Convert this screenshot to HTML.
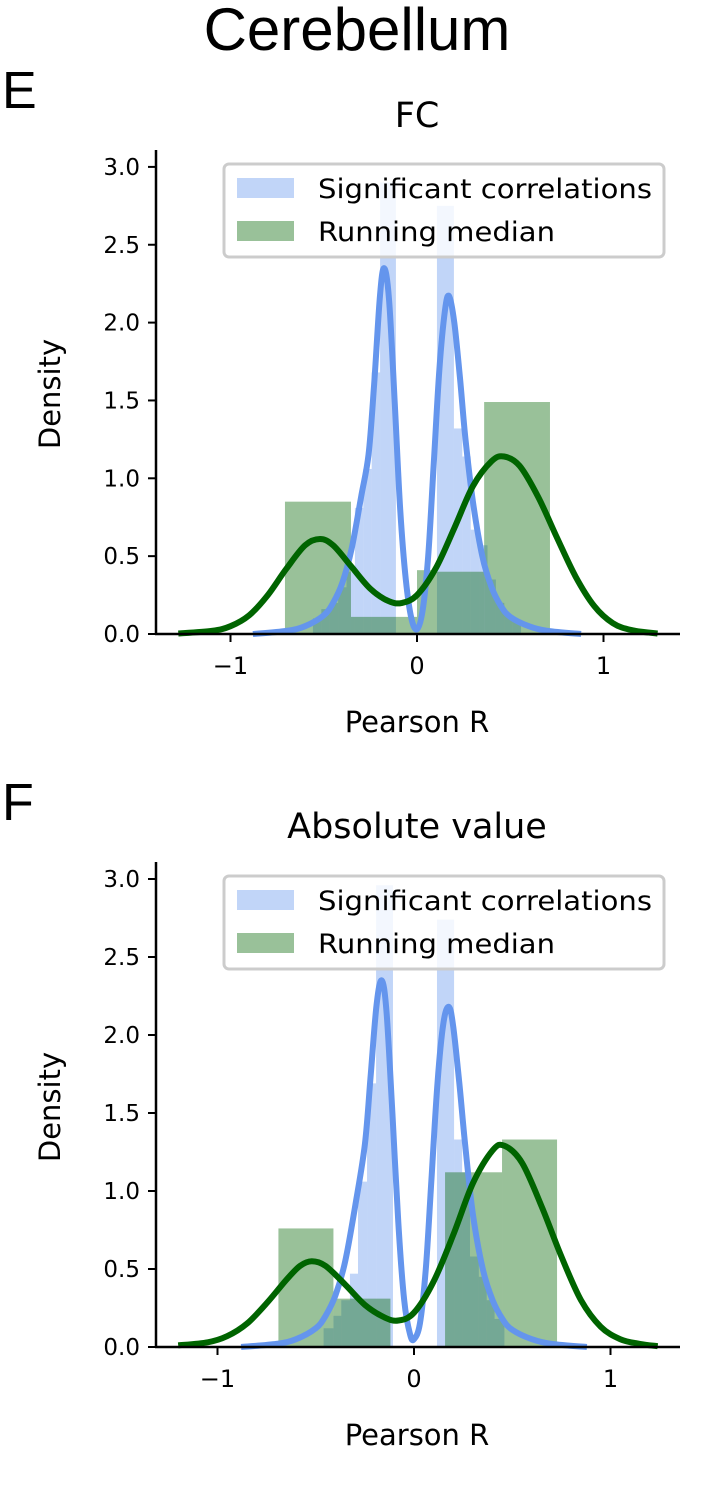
<!DOCTYPE html>
<html><head><meta charset="utf-8">
<style>
body{margin:0;background:#fff;}
svg{display:block;}
text{font-family:"DejaVu Sans","Liberation Sans",sans-serif;fill:#000;}
</style></head>
<body>
<svg id="chart" width="712" height="1486" viewBox="0 0 712 1486" xmlns="http://www.w3.org/2000/svg">
<text x="357" y="50" text-anchor="middle" font-size="60" style="font-family:'Liberation Sans',sans-serif">Cerebellum</text>
<text x="2" y="108" font-size="52" style="font-family:'Liberation Sans',sans-serif">E</text>
<text x="2" y="820" font-size="52" style="font-family:'Liberation Sans',sans-serif">F</text>
</svg>
<script>
// ---- data ----
const yTicks = [0, 0.5, 1.0, 1.5, 2.0, 2.5, 3.0];
const yTickLabels = ["0.0","0.5","1.0","1.5","2.0","2.5","3.0"];
const xTicks = [-1, 0, 1];
const xTickLabels = ["\u22121","0","1"];
const legendLabels = ["Significant correlations","Running median"];

// Panel E (FC)
const eBlueBinStart = [-0.558,-0.513,-0.468,-0.423,-0.378,-0.333,-0.288,-0.243,-0.198,0.107,0.198,0.243,0.288,0.333,0.378,0.423,0.468,0.513];
const eBlueBinEnd   = [-0.513,-0.468,-0.423,-0.378,-0.333,-0.288,-0.243,-0.198,-0.113,0.198,0.243,0.288,0.333,0.378,0.423,0.468,0.513,0.558];
const eBlueHeights  = [0.10,0.16,0.20,0.30,0.40,0.81,1.06,1.68,2.90,2.75,1.32,1.14,0.67,0.57,0.35,0.20,0.12,0.08];
const eGreenBinStart = [-0.708,-0.354,0.0,0.107,0.36];
const eGreenBinEnd   = [-0.354,0.0,0.107,0.36,0.713];
const eGreenHeights  = [0.85,0.11,0.41,0.40,1.49];
const eBlueKdeX = [-0.88,-0.7,-0.6,-0.5,-0.45,-0.4,-0.35,-0.3,-0.26,-0.23,-0.2,-0.177,-0.15,-0.12,-0.09,-0.06,-0.03,0,0.03,0.06,0.09,0.12,0.15,0.172,0.2,0.23,0.26,0.3,0.35,0.4,0.45,0.5,0.6,0.7,0.88];
const eBlueKdeY = [0.0,0.02,0.05,0.12,0.2,0.33,0.55,0.88,1.15,1.6,2.15,2.35,2.15,1.5,0.8,0.35,0.1,0.03,0.15,0.5,1.1,1.7,2.08,2.17,2.0,1.65,1.25,0.85,0.5,0.3,0.18,0.11,0.05,0.02,0.0];
const eGreenKdeX = [-1.28,-1.1,-1.0,-0.9,-0.8,-0.7,-0.6,-0.52,-0.45,-0.35,-0.25,-0.15,-0.08,0.0,0.1,0.2,0.3,0.4,0.467,0.55,0.65,0.75,0.85,0.95,1.05,1.15,1.29];
const eGreenKdeY = [0.003,0.02,0.05,0.12,0.25,0.42,0.57,0.61,0.57,0.43,0.29,0.21,0.20,0.25,0.42,0.68,0.95,1.11,1.14,1.08,0.88,0.62,0.37,0.18,0.07,0.025,0.003];

// Panel F (Absolute value)
const fBlueBinStart = [-0.46,-0.41,-0.37,-0.326,-0.285,-0.239,-0.193,0.117,0.204,0.245,0.285,0.33,0.37,0.41];
const fBlueBinEnd   = [-0.41,-0.37,-0.326,-0.285,-0.239,-0.193,-0.107,0.204,0.245,0.285,0.33,0.37,0.41,0.46];
const fBlueHeights  = [0.12,0.20,0.30,0.47,1.06,1.69,2.96,2.74,1.33,1.12,0.58,0.45,0.30,0.18];
const fGreenBinStart = [-0.69,-0.41,0.158,0.448];
const fGreenBinEnd   = [-0.41,-0.12,0.448,0.728];
const fGreenHeights  = [0.76,0.31,1.12,1.33];
const fBlueKdeX = [-0.88,-0.7,-0.6,-0.5,-0.45,-0.4,-0.35,-0.3,-0.25,-0.22,-0.19,-0.164,-0.14,-0.11,-0.08,-0.05,-0.02,0.0,0.03,0.06,0.09,0.12,0.15,0.178,0.2,0.23,0.26,0.3,0.35,0.4,0.45,0.5,0.6,0.7,0.88];
const fBlueKdeY = [0.0,0.02,0.05,0.12,0.2,0.33,0.55,0.9,1.3,1.75,2.2,2.35,2.15,1.5,0.8,0.3,0.08,0.05,0.15,0.5,1.1,1.7,2.08,2.18,2.05,1.7,1.3,0.85,0.5,0.3,0.18,0.11,0.05,0.02,0.0];
const fGreenKdeX = [-1.2,-1.05,-0.95,-0.85,-0.75,-0.65,-0.58,-0.52,-0.45,-0.35,-0.25,-0.15,-0.08,0.0,0.1,0.2,0.3,0.4,0.46,0.55,0.65,0.75,0.85,0.95,1.05,1.15,1.24];
const fGreenKdeY = [0.01,0.03,0.07,0.15,0.28,0.43,0.52,0.55,0.52,0.40,0.27,0.19,0.17,0.22,0.42,0.72,1.05,1.26,1.29,1.18,0.90,0.58,0.30,0.13,0.05,0.02,0.005];

const NS = "http://www.w3.org/2000/svg";
const svg = document.getElementById("chart");
function mk(tag, attrs, parent){
  const e = document.createElementNS(NS, tag);
  for (const k in attrs) e.setAttribute(k, attrs[k]);
  (parent||svg).appendChild(e);
  return e;
}
function smoothPath(pts){
  let d = "M" + pts[0][0].toFixed(1) + "," + pts[0][1].toFixed(1);
  for (let i=0;i<pts.length-1;i++){
    const p0=pts[Math.max(0,i-1)], p1=pts[i], p2=pts[i+1], p3=pts[Math.min(pts.length-1,i+2)];
    const c1x=p1[0]+(p2[0]-p0[0])/6, c1y=p1[1]+(p2[1]-p0[1])/6;
    const c2x=p2[0]-(p3[0]-p1[0])/6, c2y=p2[1]-(p3[1]-p1[1])/6;
    d += " C"+c1x.toFixed(1)+","+c1y.toFixed(1)+" "+c2x.toFixed(1)+","+c2y.toFixed(1)+" "+p2[0].toFixed(1)+","+p2[1].toFixed(1);
  }
  return d;
}

function panel(cfg){
  const g = mk("g", {});
  
  
  const X = v => cfg.x0 + v*cfg.sx;
  const Y = v => cfg.y0 - v*cfg.sy;

  for (let i=0;i<cfg.bS.length;i++){
    const r = mk("rect", {x:X(cfg.bS[i]), y:Y(cfg.bH[i]), width:X(cfg.bE[i])-X(cfg.bS[i]), height:cfg.y0-Y(cfg.bH[i]), fill:"#6495ED", "fill-opacity":0.4}, g);
    
    
  }
  for (let i=0;i<cfg.gS.length;i++){
    const r = mk("rect", {x:X(cfg.gS[i]), y:Y(cfg.gH[i]), width:X(cfg.gE[i])-X(cfg.gS[i]), height:cfg.y0-Y(cfg.gH[i]), fill:"#006400", "fill-opacity":0.4}, g);
    
    
  }
  const bp = mk("path", {d:smoothPath(cfg.bkx.map((v,i)=>[X(v),Y(cfg.bky[i])])), fill:"none", stroke:"#6495ED", "stroke-width":6, "stroke-linejoin":"round"}, g);
  
  
  const gp = mk("path", {d:smoothPath(cfg.gkx.map((v,i)=>[X(v),Y(cfg.gky[i])])), fill:"none", stroke:"#006400", "stroke-width":6, "stroke-linejoin":"round"}, g);
  
  

  const ls = mk("line", {x1:156, y1:cfg.top, x2:156, y2:cfg.y0+1, stroke:"#000", "stroke-width":2.5}, g);
  
  
  const bs = mk("line", {x1:155, y1:cfg.y0, x2:680, y2:cfg.y0, stroke:"#000", "stroke-width":2.5}, g);
  
  

  yTicks.forEach((v,i)=>{
    const t = mk("line", {x1:148, y1:Y(v), x2:156, y2:Y(v), stroke:"#000", "stroke-width":2}, g);
    
    
    const l = mk("text", {x:140, y:Y(v)+8, "text-anchor":"end", "font-size":23}, g);
    l.textContent = yTickLabels[i];
    
    
  });
  xTicks.forEach((v,i)=>{
    const t = mk("line", {x1:X(v), y1:cfg.y0, x2:X(v), y2:cfg.y0+8, stroke:"#000", "stroke-width":2}, g);
    
    
    const l = mk("text", {x:X(v), y:cfg.y0+40, "text-anchor":"middle", "font-size":24}, g);
    l.textContent = xTickLabels[i];
    
    
  });
  const xt = mk("text", {x:417, y:cfg.y0+98, "text-anchor":"middle", "font-size":29}, g);
  xt.textContent = "Pearson R";
  
  
  const ycy = cfg.y0 - 240;
  const yt = mk("text", {x:60, y:ycy, "text-anchor":"middle", "font-size":29, transform:"rotate(-90 60 "+ycy+")"}, g);
  yt.textContent = "Density";
  
  
  const tt = mk("text", {x:417, y:cfg.titleY, "text-anchor":"middle", "font-size":35}, g);
  tt.textContent = cfg.title;
  
  

  const lg = mk("g", {}, g);
  
  
  mk("rect", {x:224, y:cfg.legY, width:440, height:93, rx:5, fill:"#fff", "fill-opacity":0.8, stroke:"#cccccc", "stroke-width":3}, lg);
  const colors = ["#6495ED","#006400"];
  legendLabels.forEach((lab,i)=>{
    const ry = cfg.legY + 14 + i*43;
    const p = mk("rect", {x:237, y:ry, width:57, height:20, fill:colors[i], "fill-opacity":0.4}, lg);
    
    
    const t = mk("text", {x:318, y:ry+20, "font-size":27, textLength:334, lengthAdjust:"spacingAndGlyphs"}, lg);
    if (i===1) t.setAttribute("textLength", 237);
    t.textContent = lab;
    
    
  });
}

panel({name:"panel-e-fc", title:"FC", titleY:127, x0:417, sx:186.5, y0:634, sy:155.7, top:150, legY:164,
  bS:eBlueBinStart, bE:eBlueBinEnd, bH:eBlueHeights, gS:eGreenBinStart, gE:eGreenBinEnd, gH:eGreenHeights,
  bkx:eBlueKdeX, bky:eBlueKdeY, gkx:eGreenKdeX, gky:eGreenKdeY});
panel({name:"panel-f-absolute", title:"Absolute value", titleY:838, x0:414, sx:196.5, y0:1347, sy:156, top:862, legY:876,
  bS:fBlueBinStart, bE:fBlueBinEnd, bH:fBlueHeights, gS:fGreenBinStart, gE:fGreenBinEnd, gH:fGreenHeights,
  bkx:fBlueKdeX, bky:fBlueKdeY, gkx:fGreenKdeX, gky:fGreenKdeY});
</script>
</body></html>
